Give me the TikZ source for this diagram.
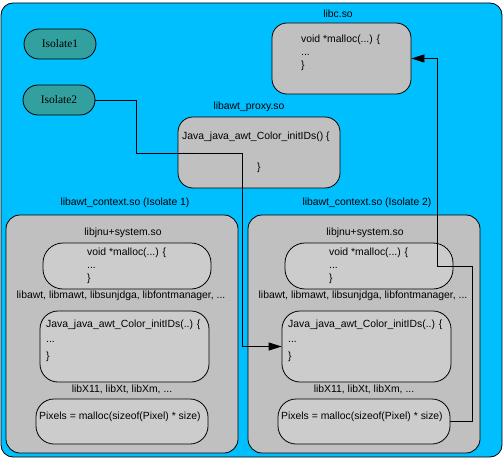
\documentclass[tikz,border=0pt]{standalone}
\usepackage{fontspec}
\setmainfont{Liberation Sans}
\newfontfamily\isofont{Liberation Serif}
\usetikzlibrary{arrows.meta}

\definecolor{skyblue}{RGB}{0,191,255}
\definecolor{isoteal}{RGB}{51,160,160}
\definecolor{libgray}{RGB}{192,192,192}
\definecolor{fungray}{RGB}{204,204,204}

\tikzset{
    libbox/.style={draw, line width=0.8pt, fill=libgray, inner sep=0pt},
    funbox/.style={draw, line width=0.8pt, fill=fungray, inner sep=0pt},
    isobox/.style={draw, line width=0.8pt, fill=isoteal, rounded corners=15pt,
        minimum width=72pt, minimum height=30pt, font=\isofont\fontsize{11.5}{13}\selectfont},
    txt/.style={inner sep=0pt, text height=7.5pt, text depth=2pt, font=\fontsize{10.4}{12}\selectfont},
    code/.style={txt, anchor=west},
    wire/.style={line width=0.8pt, -{Triangle[length=13pt,width=8pt]}}
}

\begin{document}
\begin{tikzpicture}[x=1pt, y=-1pt]
    \useasboundingbox (0,0) rectangle (503,460);

    % Background
    \fill[skyblue, draw=black, line width=0.8pt, rounded corners=12pt] (1,3) rectangle (502,457);

    % Isolates
    \node[isobox] (iso1) at (60,44) {Isolate1};
    \node[isobox] (iso2) at (59,100) {Isolate2};

    % libc.so
    \node[txt] (libclbl) at (338,15) {libc.so};
    \node[libbox, rounded corners=15pt, minimum width=139pt, minimum height=71pt] (libc) at (341.5,58.5) {};
    \node[code] (libc1) at (301,40) {void *malloc(...) \{};
    \node[code] (libc2) at (301,53) {...};
    \node[code] (libc3) at (301,66) {\}};

    % libawt_proxy.so
    \node[txt] (proxylbl) at (249,107) {libawt\_proxy.so};
    \node[libbox, rounded corners=15pt, minimum width=162pt, minimum height=71pt] (proxy) at (259,152.5) {};
    \node[code] (proxy1) at (182,137) {Java\_java\_awt\_Color\_initIDs() \{};
    \node[code] (proxy2) at (182,152) {....};
    \node[code] (proxy3) at (257,168) {\}};

    % libawt_context.so, one per isolate
    \foreach \n/\dx in {1/0, 2/242} {
        \begin{scope}[xshift=\dx]
            \node[txt] (ctxlbl\n) at (125,203) {libawt\_context.so (Isolate \n)};
            \node[libbox, rounded corners=14pt, minimum width=232pt, minimum height=238pt] (ctx\n) at (122,334) {};
            \node[txt] (jnulbl\n) at (123,233) {libjnu+system.so};

            \node[funbox, rounded corners=20pt, minimum width=168pt, minimum height=46pt] (malloc\n) at (127,266) {};
            \node[code] (malloc\n a) at (87,253) {void *malloc(...) \{};
            \node[code] (malloc\n b) at (87,266) {...};
            \node[code] (malloc\n c) at (87,279) {\}};

            \node[txt] (awtlbl\n) at (121,296) {libawt, libmawt, libsunjdga, libfontmanager, ...};

            \node[funbox, rounded corners=18pt, minimum width=169pt, minimum height=71pt] (java\n) at (124.5,346.5) {};
            \node[code] (java\n a) at (46,325) {Java\_java\_awt\_Color\_initIDs(..) \{};
            \node[code] (java\n b) at (46,340) {...};
            \node[code] (java\n c) at (46,357) {\}};

            \node[txt] (xlbl\n) at (122,390) {libX11, libXt, libXm, ...};

            \node[funbox, rounded corners=18pt, minimum width=172pt, minimum height=45pt] (pix\n) at (122,421.5) {};
            \node[code] (pix\n a) at (39,417) {Pixels = malloc(sizeof(Pixel) * size)};
        \end{scope}
    }

    % Calls
    \draw[wire] (iso2.east) -| (136,153) -- (242,153) |- (java2.west);
    \draw[wire] (pix2.east) -| (472,266) -- (437,266) |- (libc.east);

\end{tikzpicture}
\end{document}
